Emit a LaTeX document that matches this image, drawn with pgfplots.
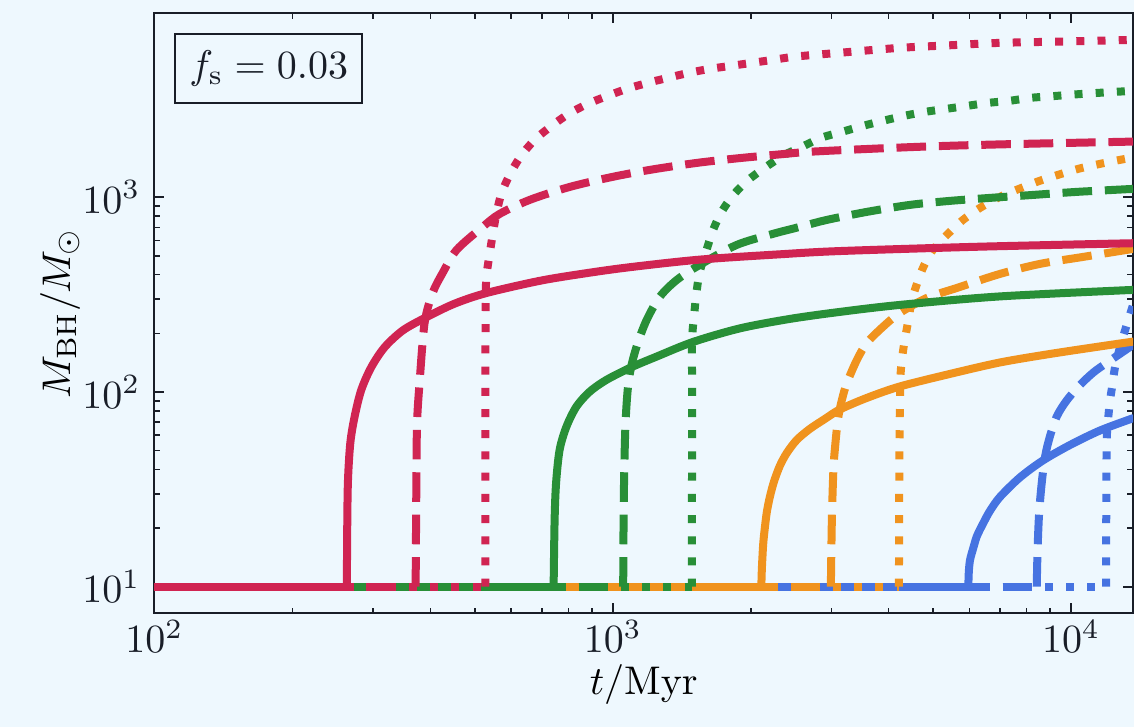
\documentclass[border=0pt]{standalone}
\usepackage{pgfplots}
\pgfplotsset{compat=1.18}
\definecolor{bgc}{RGB}{238,248,254}
\definecolor{axc}{RGB}{25,30,40}
\definecolor{cred}{RGB}{208,36,82}
\definecolor{cgreen}{RGB}{40,143,55}
\definecolor{corange}{RGB}{240,147,30}
\definecolor{cblue}{RGB}{70,115,225}
\tikzset{
  sol/.style={line width=2pt, line join=round, line cap=round},
  das/.style={line width=2pt, line join=round, dash pattern=on 7.4pt off 3.2pt},
  dot/.style={line width=2pt, line join=round, dash pattern=on 2pt off 3.3pt},
}
\begin{document}
\begin{tikzpicture}
\fill[bgc] (-38.6pt,-28.4pt) rectangle (244.85pt,153.3pt);
\begin{axis}[
  scale only axis, width=244.6pt, height=150pt,
  xmode=log, ymode=log,
  xmin=100, xmax=13655, ymin=7.3, ymax=8810,
  xtick={100,1000,10000}, ytick={10,100,1000},
  axis line style={line width=0.5pt, color=axc},
  major tick length=2.5pt, minor tick length=1.4pt,
  every tick/.style={axc, line width=0.5pt},
  every minor tick/.style={axc, line width=0.4pt},
  tick align=inside,
  tick label style={font=\fontsize{10}{12}\selectfont, text=axc},
  xticklabel style={yshift=1.8pt},
  xlabel={$t/\mathrm{Myr}$},
  ylabel={$M_{\mathrm{BH}}/M_{\odot}$},
  label style={font=\fontsize{15.2}{18}\selectfont, text=axc},
  every axis x label/.style={at={(axis description cs:0.5,0)}, anchor=base, yshift=-20.4pt},
  every axis y label/.style={at={([xshift=-21.1pt]axis description cs:0,0.5)}, rotate=90, anchor=base},
  no markers,
]
% blue
\addplot[cblue, sol] coordinates {(100,10) (5969,10)};
\addplot[cblue, sol, smooth] coordinates {(5969,10) (5984,11.9) (6020,13.7) (6120,15.8) (6233,18.2) (6435,21.2) (6655,24.5) (6998,28.9) (7738,36.4) (8687,44.5) (9950,53.4) (11569,63.4) (13655,73.3)};
\addplot[cblue, das] coordinates {(100,10) (8417,10)};
\addplot[cblue, das, smooth] coordinates {(8417,10) (8452,15.4) (8515,23.4) (8622,33.3) (8775,46.4) (8999,59.4) (9320,75.3) (9801,90.9) (10464,108.6) (11226,126.7) (12228,146.0) (13256,166.3) (13655,174.3)};
\addplot[cblue, dot] coordinates {(100,10) (11925,10)};
\addplot[cblue, dot, smooth] coordinates {(11925,10) (11955,50.4) (12046,71.8) (12168,90.9) (12290,106.1) (12477,134.4) (12794,170.3) (13188,215.8) (13570,266.9) (13655,279.8)};
% orange
\addplot[corange, sol] coordinates {(100,10) (2110,10)};
\addplot[corange, sol, smooth] coordinates {(2110,10) (2115,12.2) (2129,16.4) (2147,20.0) (2169,24.2) (2202,28.9) (2247,34.5) (2315,41.7) (2398,48.6) (2521,56.7) (2692,64.6) (2904,72.7) (3131,81.3) (3586,93.2) (4232,106.7) (5441,123.7) (6998,141.7) (8999,156.7) (11569,171.3) (13655,181.3)};
\addplot[corange, das] coordinates {(100,10) (2992,10)};
\addplot[corange, das, smooth] coordinates {(2992,10) (3007,22.0) (3030,39.8) (3052,50.4) (3099,71.8) (3162,90.9) (3243,111.2) (3410,146.0) (3586,178.5) (3886,215.8) (4232,254.6) (4849,304.1) (5636,342.0) (6998,403.7) (8557,454.5) (10622,493.5) (13655,542.6)};
\addplot[corange, dot] coordinates {(100,10) (4212,10)};
\addplot[corange, dot, smooth] coordinates {(4212,10) (4222,50.4) (4243,115.3) (4276,146.0) (4319,174.3) (4385,213.2) (4475,279.8) (4564,334.2) (4752,433.5) (4995,536.2) (5387,647.9) (5811,764.6) (6330,881.0) (6998,1004) (7700,1103) (8472,1205) (9367,1302) (10359,1397) (11569,1483) (12794,1555) (13655,1601)};
% green
\addplot[cgreen, sol] coordinates {(100,10) (743.1,10)};
\addplot[cgreen, sol, smooth] coordinates {(743.1,10) (746.8,22.0) (752.4,34.1) (765.8,50.4) (792.6,66.3) (833.3,84.1) (890.7,100.3) (968.8,115.3) (1098,133.9) (1246,151.8) (1497,180.6) (1894,212) (2435,237.1) (3131,257.6) (4232,279.8) (6998,309.4) (13655,334.2)};
\addplot[cgreen, das] coordinates {(100,10) (1054,10)};
\addplot[cgreen, das, smooth] coordinates {(1054,10) (1057,27.9) (1065,63.8) (1078,102.4) (1098,136.0) (1134,178.5) (1186,234.4) (1266,307.6) (1380,376.1) (1548,449.0) (1865,568.9) (2235,647.9) (2560,703.9) (2933,764.6) (3586,840.6) (4451,913.0) (5441,957.2) (6655,991.7) (8260,1027) (10306,1065) (13655,1103)};
\addplot[cgreen, dot] coordinates {(100,10) (1489,10)};
\addplot[cgreen, dot, smooth] coordinates {(1489,10) (1489.5,100) (1490,184.9) (1507,254.6) (1523,322.5) (1548,413.3) (1602,536.2) (1656,679.4) (1728,840.6) (1833,1027) (1977,1227) (2159,1430) (2369,1649) (2586,1813) (2845,2016) (3162,2165) (3515,2324) (3886,2466) (4319,2616) (4800,2742) (5335,2841) (5930,2944) (6589,3050) (7321,3123) (8137,3236) (9090,3300) (10102,3365) (11170,3420) (12477,3475) (13655,3516)};
% red
\addplot[cred, sol] coordinates {(100,10) (263.0,10)};
\addplot[cred, sol, smooth] coordinates {(263.0,10) (263.3,17.4) (264.3,34.0) (267.5,54.5) (273.4,74.7) (282.7,102.4) (297.3,134) (317.8,169.5) (348.4,207) (392.0,242) (451.9,284) (530.0,322) (692.9,372) (868.6,406) (1089,437) (1548,478) (2315,509) (3131,529) (6330,557) (13655,580.3)};
\addplot[cred, das] coordinates {(100,10) (371.5,10)};
\addplot[cred, das, smooth] coordinates {(371.5,10) (372.9,35.3) (374.2,69.3) (378.9,111.2) (388.6,226.1) (404.6,322.5) (425.5,408.5) (456.4,536.2) (520.3,703.9) (566.6,820.9) (658.9,968.5) (805.5,1129) (1000,1272) (1223,1389) (1526,1500) (1865,1582) (2315,1659) (2789,1719) (4611,1813) (6998,1867) (13655,1930)};
\addplot[cred, dot] coordinates {(100,10) (527.3,10)};
\addplot[cred, dot, smooth] coordinates {(527.3,10) (527.6,150) (528.3,297) (530.0,389.7) (537.5,493.5) (547.9,655.6) (557.9,830.8) (572.3,1052) (598.8,1333) (633.0,1649) (679.1,1993) (735.8,2324) (801.5,2679) (881.9,3014) (975.2,3314) (1073,3598) (1192,3865) (1319,4100) (1465,4350) (1629,4560) (1810,4725) (2012,4895) (2235,5072) (2472,5255) (2761,5382) (3292,5572) (4232,5847) (5441,6026) (6998,6201) (9950,6310) (13655,6426)};
\node[draw=axc, line width=0.55pt, fill=bgc, minimum width=46.75pt, minimum height=17.3pt, inner sep=0pt, anchor=north west, font=\fontsize{10}{12}\selectfont, text=axc] at ([xshift=4.9pt,yshift=-4.9pt]rel axis cs:0,1) {$f_{\mathrm{s}}=0.03$};
\end{axis}
\end{tikzpicture}
\end{document}
